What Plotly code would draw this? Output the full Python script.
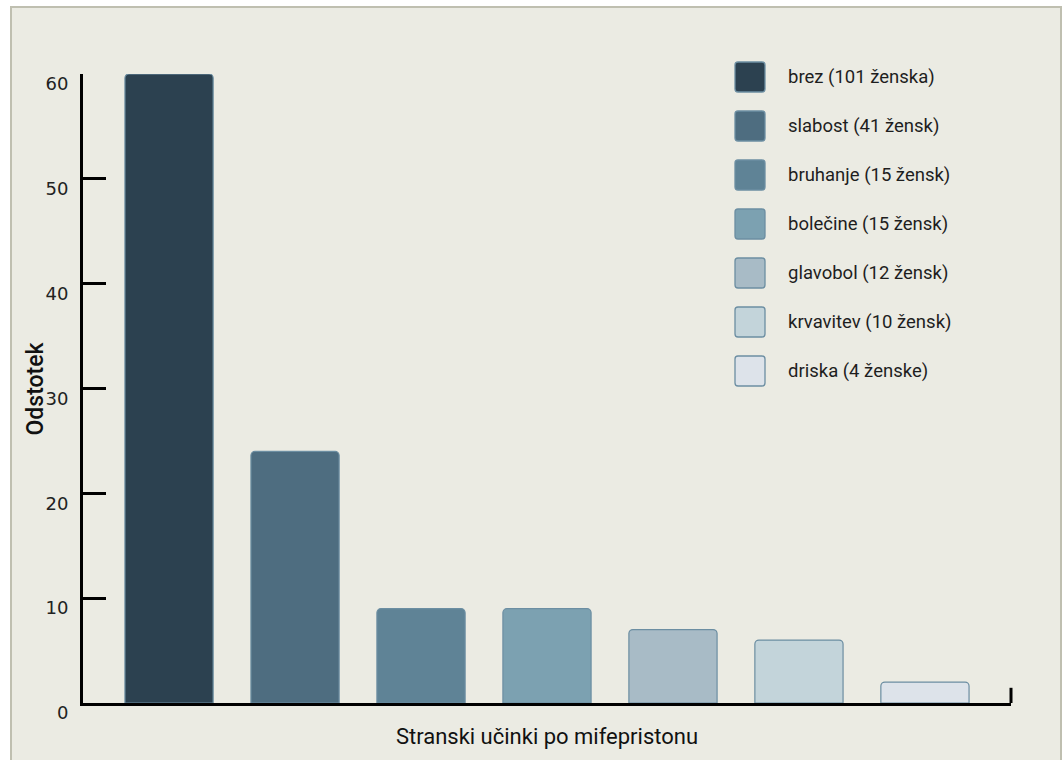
import plotly.graph_objects as go

# Side effects after mifepristone (share of women, %)
categories = ["brez", "slabost", "bruhanje", "bolečine", "glavobol", "krvavitev", "driska"]
legend_labels = [
    "brez (101 ženska)",
    "slabost (41 žensk)",
    "bruhanje (15 žensk)",
    "bolečine (15 žensk)",
    "glavobol (12 žensk)",
    "krvavitev (10 žensk)",
    "driska (4 ženske)",
]
percent = [60, 24, 9, 9, 7, 6, 2]
bar_colors = ["#2C4150", "#4E6D80", "#5F8396", "#7CA1B1", "#A8BBC6", "#C3D4DA", "#DDE3EA"]
y_ticks = [0, 10, 20, 30, 40, 50, 60]

OUTLINE = "#6C8EA2"
PANEL = "#EBEBE3"
FONT = "Roboto"

# plot area in pixels (for placing decorations in paper coordinates)
W, H = 1064, 760
L, R, T, B = 83, 53, 74, 57
PW, PH = W - L - R, H - T - B


def px_x(px):
    return (px - L) / PW


def px_y(py):
    return (H - B - py) / PH


fig = go.Figure()
fig.add_trace(
    go.Bar(
        x=list(range(len(categories))),
        y=percent,
        width=0.7,
        marker=dict(color=bar_colors, line=dict(color=OUTLINE, width=1.2), cornerradius=4),
        hovertext=categories,
        showlegend=False,
    )
)

shapes = [
    # panel with frame
    dict(type="rect", xref="paper", yref="paper",
         x0=px_x(11), x1=px_x(1061), y0=px_y(780), y1=px_y(7),
         fillcolor=PANEL, line=dict(color="#BFBFB0", width=2), layer="below"),
    # end mark at the right of the category axis
    dict(type="line", xref="paper", yref="y", x0=1, x1=1, y0=0, y1=1.45,
         line=dict(color="black", width=3)),
]

annotations = [
    # value axis title
    dict(xref="paper", yref="paper", x=px_x(35), y=0.5, text="Odstotek",
         textangle=-90, showarrow=False, xanchor="center", yanchor="middle",
         font=dict(family=FONT, size=23, color="#111", weight=500)),
]
# legend: rounded swatches with labels
sw, gap, x_sw, y_sw = 30, 49, 735, 62
rx, ry = 3 / PW, 3 / PH
for i, (lab, col) in enumerate(zip(legend_labels, bar_colors)):
    x0, x1 = px_x(x_sw), px_x(x_sw + sw)
    y1, y0 = px_y(y_sw + gap * i), px_y(y_sw + gap * i + sw)
    path = (
        f"M {x0 + rx},{y0} L {x1 - rx},{y0} Q {x1},{y0} {x1},{y0 + ry} "
        f"L {x1},{y1 - ry} Q {x1},{y1} {x1 - rx},{y1} "
        f"L {x0 + rx},{y1} Q {x0},{y1} {x0},{y1 - ry} "
        f"L {x0},{y0 + ry} Q {x0},{y0} {x0 + rx},{y0} Z"
    )
    shapes.append(dict(type="path", xref="paper", yref="paper", path=path,
                       fillcolor=col, line=dict(color=OUTLINE, width=1.3)))
    annotations.append(dict(
        xref="paper", yref="paper", x=px_x(786), y=(y0 + y1) / 2,
        text=lab, showarrow=False, xanchor="left", yanchor="middle",
        font=dict(family=FONT, size=18.5, color="#1E1E1E"),
    ))

fig.update_layout(
    width=W, height=H,
    margin=dict(l=L, r=R, t=T, b=B),
    paper_bgcolor="white",
    plot_bgcolor="rgba(0,0,0,0)",
    shapes=shapes,
    annotations=annotations,
    bargap=0.3,
    xaxis=dict(
        range=[-0.683, 6.683],
        showticklabels=False, ticks="", showgrid=False, zeroline=False,
        showline=True, linecolor="black", linewidth=3, layer="below traces",
        title=dict(text="Stranski učinki po mifepristonu",
                   font=dict(family=FONT, size=22, color="#111"), standoff=24),
    ),
    yaxis=dict(
        range=[0, 60],
        tickvals=y_ticks, ticks="inside", ticklen=23, tickwidth=3, tickcolor="black",
        showgrid=False, zeroline=False,
        showline=True, linecolor="black", linewidth=3,
        tickfont=dict(family="DejaVu Sans", size=18, color="#222"),
        ticklabelstandoff=8, ticklabelshift=10,
    ),
)

fig.write_html("out.html")
